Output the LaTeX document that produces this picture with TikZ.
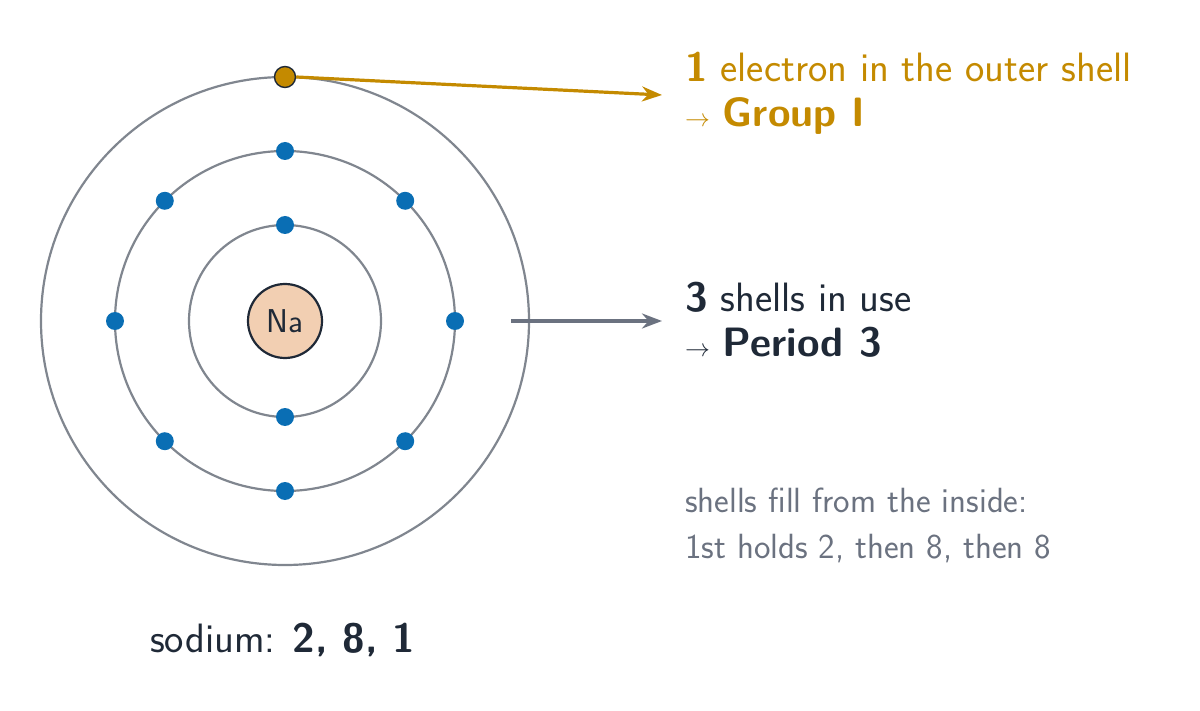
\documentclass[tikz,border=0pt]{standalone}
\usepackage{sfmath}
\usetikzlibrary{calc,arrows.meta}
\renewcommand{\familydefault}{\sfdefault}
\begin{document}
\definecolor{gold}{HTML}{C48A00}
\definecolor{eblue}{HTML}{0A6EB4}
\definecolor{ink}{HTML}{1F2937}
\definecolor{soft}{HTML}{6B7280}
\definecolor{orb}{HTML}{80868F}
\definecolor{nuc}{HTML}{F2CFB2}
\begin{tikzpicture}[x=1pt,y=-1pt,
  orbit/.style={draw=orb,line width=2.2pt},
  el/.style={circle,fill=eblue,inner sep=0pt,minimum size=18pt},
  lbl/.style={anchor=base west,inner sep=0pt,font=\fontsize{41}{48}\selectfont},
  note/.style={anchor=base west,inner sep=0pt,font=\fontsize{35}{40}\selectfont,text=soft},
  arr/.style={line width=3.2pt,-{Stealth[length=20pt,width=15pt]}}]
\useasboundingbox (0,0) rectangle (1200,711);
\coordinate (c) at (285,321);
\draw[orbit] (c) circle (96);
\draw[orbit] (c) circle (170);
\draw[orbit] (c) circle (244);
\node[circle,draw=ink,line width=2.2pt,fill=nuc,minimum size=74pt,inner sep=0pt,font=\fontsize{33}{36}\selectfont,text=ink] (n) at (c) {Na};
\foreach \a in {90,270} \node[el] (i\a) at ($(c)+(\a:96)$) {};
\foreach \a in {0,45,...,315} \node[el] (m\a) at ($(c)+(\a:170)$) {};
\node[circle,fill=gold,draw=ink,line width=1.4pt,minimum size=21pt,inner sep=0pt] (o) at (285,77) {};
\node[lbl,text=gold] (t1) at (685,82) {\textbf{1} electron in the outer shell};
\node[lbl,text=gold] (t2) at (685,127) {$\rightarrow$ \textbf{Group I}};
\node[lbl,text=ink] (t3) at (685,312) {\textbf{3} shells in use};
\node[lbl,text=ink] (t4) at (685,357) {$\rightarrow$ \textbf{Period 3}};
\node[note] (t5) at (685,512) {shells fill from the inside:};
\node[note] (t6) at (685,558) {1st holds 2, then 8, then 8};
\node[lbl,text=ink] (t7) at (150,652) {sodium: \textbf{2, 8, 1}};
\coordinate (g1) at (662,95);
\coordinate (p0) at (511,321);
\coordinate (p1) at (662,321);
\draw[arr,gold] (o.east) -- (g1);
\draw[arr,soft] (p0) -- (p1);
\end{tikzpicture}
\end{document}
